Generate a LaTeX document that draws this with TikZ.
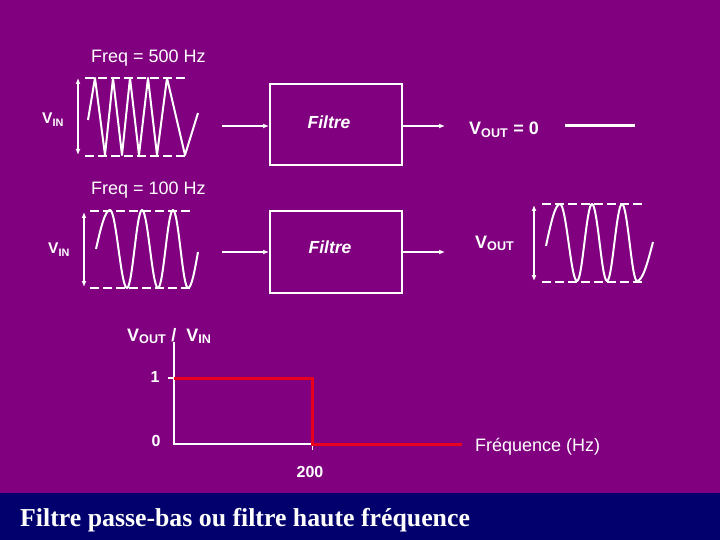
\documentclass[tikz,border=0pt]{standalone}
\usepackage{fontspec}
\setmainfont{Liberation Sans}
\newfontfamily\titlefont{Liberation Serif}
\usepackage{tikz}
\usetikzlibrary{arrows.meta}
\definecolor{SlideViolet}{RGB}{128,0,128}
\definecolor{BarNavy}{RGB}{2,0,108}
\definecolor{CurveRed}{RGB}{232,0,28}
\tikzset{
  filtrebox/.style={draw=white, line width=2pt, minimum width=132pt, minimum height=81pt, inner sep=0pt},
  flow/.style={-{Latex[length=6pt,width=5pt]}, white, line width=1.6pt},
  span/.style={{Latex[length=6pt,width=5pt]}-{Latex[length=6pt,width=5pt]}, white, line width=1.5pt},
  level/.style={white, line width=2.5pt, dash pattern=on 9pt off 4pt},
  wave/.style={white, line width=2pt, line join=round},
  txt/.style={text=white, inner sep=0pt, font=\fontsize{18}{21}\selectfont},
  vtxt/.style={text=white, inner sep=0pt, font=\fontsize{18}{21}\selectfont\bfseries},
  vin/.style={text=white, inner sep=0pt, font=\fontsize{15.5}{18}\selectfont\bfseries},
  numtxt/.style={text=white, inner sep=0pt, font=\fontsize{16}{19}\selectfont\bfseries},
  filtretxt/.style={text=white, inner sep=0pt, font=\fontsize{17.5}{20}\selectfont\bfseries\itshape},
  axis/.style={white, line width=2.5pt},
  resp/.style={CurveRed, line width=3pt},
}
\begin{document}
\begin{tikzpicture}[x=1pt, y=-1pt]
  \useasboundingbox (0,0) rectangle (720,540);
  \fill[SlideViolet] (0,0) rectangle (720,540);
  \fill[BarNavy] (0,493) rectangle (720,540);

  % 500 Hz input
  \node[txt, anchor=base west] (freqA) at (91,63) {Freq = 500 Hz};
  \node[vin, anchor=base west] (vinA) at (42,124) {V\textsubscript{IN}};
  \draw[span] (78,78) -- (78,155);
  \draw[level] (85,78) -- (185,78);
  \draw[level] (85,156) -- (185,156);
  \draw[wave] (88,120) -- (95,78) -- (105,155) -- (113,78) -- (122,155) -- (130,78)
    -- (139,155) -- (148,78) -- (157,155) -- (167,78) -- (185,155) -- (198,113);

  \node[filtrebox] (filtreA) at (336,124.5) {};
  \node[filtretxt, anchor=base] (ftA) at (329,129) {Filtre};
  \coordinate (inA) at (222,126);
  \coordinate (outA) at (445,126);
  \draw[flow] (inA) -- (inA -| filtreA.west);
  \draw[flow] (filtreA.east |- outA) -- (outA);
  \node[vtxt, anchor=base west] (voutA) at (469,135) {V\textsubscript{OUT} = 0};
  \draw[white, line width=3pt] (565,126) -- (635,126);

  % 100 Hz input
  \node[txt, anchor=base west] (freqB) at (91,195) {Freq = 100 Hz};
  \node[vin, anchor=base west] (vinB) at (48,254) {V\textsubscript{IN}};
  \draw[span] (84,212) -- (84,287);
  \draw[level] (90,211) -- (190,211);
  \draw[level] (90,288) -- (190,288);
  \draw[wave] (96,249) sin (110,210) cos (118.5,249) sin (127,288) cos (134.5,249)
    sin (142,210) cos (150,249) sin (158,288) cos (165.5,249) sin (173,210)
    cos (180.5,249) sin (188,288) cos (198,252);

  \node[filtrebox] (filtreB) at (336,252) {};
  \node[filtretxt, anchor=base] (ftB) at (330,254) {Filtre};
  \coordinate (inB) at (222,252);
  \coordinate (outB) at (445,252);
  \draw[flow] (inB) -- (inB -| filtreB.west);
  \draw[flow] (filtreB.east |- outB) -- (outB);
  \node[vtxt, anchor=base west] (voutB) at (475,248) {V\textsubscript{OUT}};
  \draw[span] (534,205) -- (534,281);
  \draw[level] (542,204) -- (642,204);
  \draw[level] (542,282) -- (642,282);
  \draw[wave] (546,246) sin (560,204) cos (568.5,242) sin (577,281) cos (584.5,242)
    sin (592,204) cos (599.5,242) sin (607,281) cos (614.5,242) sin (622,204)
    cos (629.5,242) sin (637,281) cos (653,242);

  % response
  \node[vtxt, anchor=base west] (ratio) at (127,341) {V\textsubscript{OUT} / \ V\textsubscript{IN}};
  \node[numtxt, anchor=base] (one) at (155,382) {1};
  \node[numtxt, anchor=base] (zero) at (156,446) {0};
  \node[numtxt, anchor=base] (fc) at (310,477) {200};
  \node[txt, anchor=base west] (freqaxis) at (475,451) {Fréquence (Hz)};
  \draw[axis] (174,342) -- (174,444) -- (312,444);
  \draw[white, line width=2pt] (168,378) -- (174,378);
  \draw[white, line width=1pt] (312,444) -- (312,450);
  \draw[resp] (174,378) -- (312,378) -- (312,444) -- (462,444);

  \node[text=white, inner sep=0pt, anchor=base west,
    font=\titlefont\bfseries\fontsize{25.8}{30}\selectfont] (titre) at (20,526)
    {Filtre passe-bas ou filtre haute fréquence};
\end{tikzpicture}
\end{document}
